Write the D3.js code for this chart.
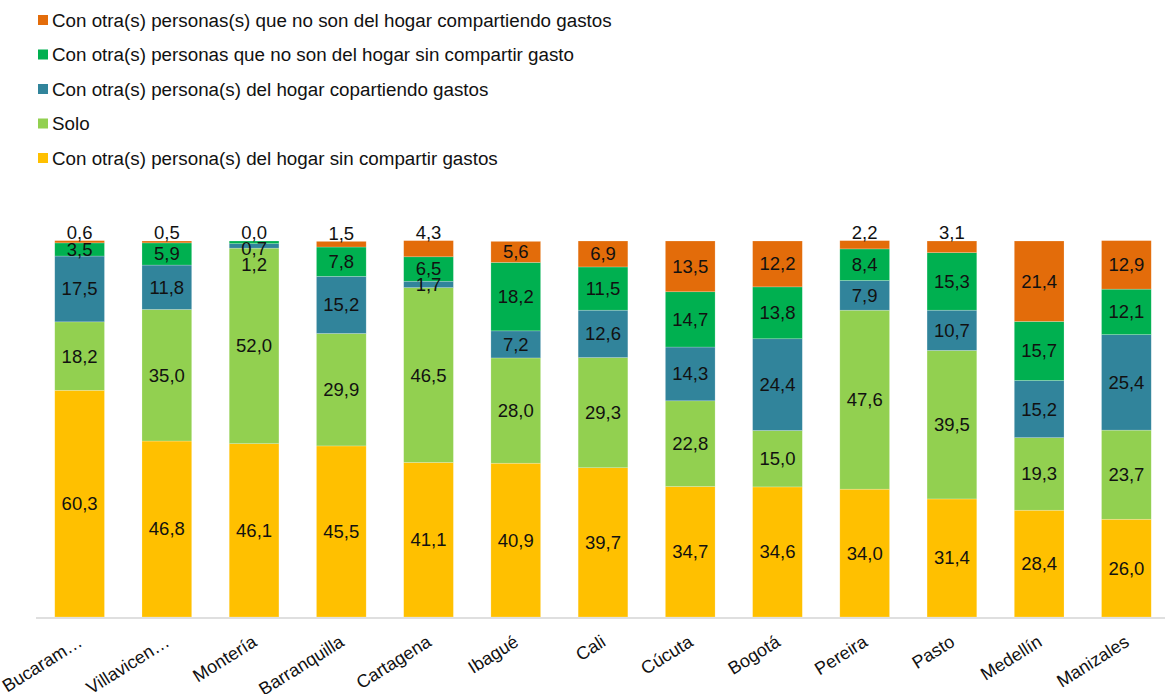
<!DOCTYPE html>
<html>
<head>
<meta charset="utf-8">
<script src="https://cdn.jsdelivr.net/npm/d3@7"></script>
<style>
  html, body { margin: 0; padding: 0; background: #ffffff; }
  svg { display: block; font-family: "Liberation Sans", Arial, sans-serif; }
</style>
</head>
<body>
<svg id="chart" width="1165" height="694"></svg>
<script>
// Cities (full names) and the labels shown under each bar
const cities = ["Bucaramanga", "Villavicencio", "Montería", "Barranquilla", "Cartagena", "Ibagué", "Cali",
                "Cúcuta", "Bogotá", "Pereira", "Pasto", "Medellín", "Manizales"];
const tickLabels = ["Bucaram…", "Villavicen…", "Montería", "Barranquilla", "Cartagena", "Ibagué", "Cali",
                    "Cúcuta", "Bogotá", "Pereira", "Pasto", "Medellín", "Manizales"];

// Percentages per living arrangement (stacked bottom to top)
const hogarSinCompartir   = [60.3, 46.8, 46.1, 45.5, 41.1, 40.9, 39.7, 34.7, 34.6, 34.0, 31.4, 28.4, 26.0];
const solo                = [18.2, 35.0, 52.0, 29.9, 46.5, 28.0, 29.3, 22.8, 15.0, 47.6, 39.5, 19.3, 23.7];
const hogarCompartiendo   = [17.5, 11.8,  1.2, 15.2,  1.7,  7.2, 12.6, 14.3, 24.4,  7.9, 10.7, 15.2, 25.4];
const noHogarSinCompartir = [ 3.5,  5.9,  0.7,  7.8,  6.5, 18.2, 11.5, 14.7, 13.8,  8.4, 15.3, 15.7, 12.1];
const noHogarCompartiendo = [ 0.6,  0.5,  0.0,  1.5,  4.3,  5.6,  6.9, 13.5, 12.2,  2.2,  3.1, 21.4, 12.9];

const seriesNames = [
  "Con otra(s) persona(s) del hogar sin compartir gastos",
  "Solo",
  "Con otra(s) persona(s) del hogar copartiendo gastos",
  "Con otra(s) personas que no son del hogar sin compartir gasto",
  "Con otra(s) personas(s) que no son del hogar compartiendo gastos"
];
const seriesValues = [hogarSinCompartir, solo, hogarCompartiendo, noHogarSinCompartir, noHogarCompartiendo];
const seriesColors = ["#FFC000", "#92D050", "#31849B", "#00B050", "#E36C0A"];

const keys = ["s0", "s1", "s2", "s3", "s4"];
const rows = cities.map((c, i) => {
  const r = { city: c, label: tickLabels[i] };
  keys.forEach((k, j) => { r[k] = seriesValues[j][i]; });
  return r;
});

const svg = d3.select("#chart");

const x = d3.scaleBand()
  .domain(cities)
  .range([36, 1170])
  .paddingInner(0.43)
  .paddingOuter(0.215);

const y = d3.scaleLinear().domain([0, 100]).range([617, 241]);

const stacked = d3.stack().keys(keys)(rows);
const color = d3.scaleOrdinal().domain(keys).range(seriesColors);

// Bars
const layers = svg.append("g").selectAll("g")
  .data(stacked)
  .join("g")
  .attr("fill", d => color(d.key));

layers.selectAll("rect")
  .data(d => d)
  .join("rect")
  .attr("x", d => x(d.data.city))
  .attr("width", x.bandwidth())
  .attr("y", d => y(d[1]))
  .attr("height", d => Math.max(0, y(d[0]) - y(d[1])))
  .attr("stroke", "#ffffff")
  .attr("stroke-opacity", 0.35)
  .attr("stroke-width", 0.6);

// Axis along the base
const xAxis = svg.append("g")
  .attr("transform", "translate(0,618)")
  .call(d3.axisBottom(x).tickSize(0).tickFormat((d, i) => tickLabels[i]));
xAxis.select(".domain").attr("stroke", "#d4d4d4").attr("stroke-width", 1.6)
  .attr("d", "M36,0H1165");
xAxis.selectAll(".tick text")
  .attr("font-family", "Liberation Sans, Arial, sans-serif")
  .attr("font-size", 18)
  .attr("fill", "#111")
  .attr("text-anchor", "end")
  .attr("dy", null)
  .attr("y", 0)
  .attr("transform", "translate(4,27) rotate(-32)");

// Value labels: centred in each segment; small top segments go above the bar,
// and labels that would collide are pushed downwards.
const fmt = v => d3.format(".1f")(v).replace(".", ",");
const labelGroup = svg.append("g")
  .attr("font-size", 18.5)
  .attr("fill", "#111")
  .attr("text-anchor", "middle");

rows.forEach((row, i) => {
  const cx = x(row.city) + x.bandwidth() / 2;
  const items = stacked.map((layer, j) => {
    const seg = layer[i];
    let cy = (y(seg[0]) + y(seg[1])) / 2;
    if (j === keys.length - 1 && row[keys[j]] < 5) cy = y(seg[1]) - 8;
    return { v: row[keys[j]], cy };
  }).sort((a, b) => a.cy - b.cy);
  for (let k = 1; k < items.length; k++) {
    if (items[k].cy - items[k - 1].cy < 16) items[k].cy = items[k - 1].cy + 16;
  }
  items.forEach(it => {
    labelGroup.append("text")
      .attr("x", cx)
      .attr("y", it.cy)
      .attr("dy", "0.35em")
      .text(fmt(it.v));
  });
});

// Legend (top series first)
const legendOrder = [4, 3, 2, 1, 0];
const legend = svg.append("g");
legendOrder.forEach((s, r) => {
  const g = legend.append("g").attr("transform", `translate(38,${20 + r * 34.5})`);
  g.append("rect").attr("x", 0).attr("y", -5).attr("width", 10).attr("height", 10)
    .attr("fill", seriesColors[s]);
  g.append("text").attr("x", 14).attr("y", 0).attr("dy", "0.35em")
    .attr("font-size", 18.8).attr("fill", "#111")
    .text(seriesNames[s]);
});
</script>
</body>
</html>
